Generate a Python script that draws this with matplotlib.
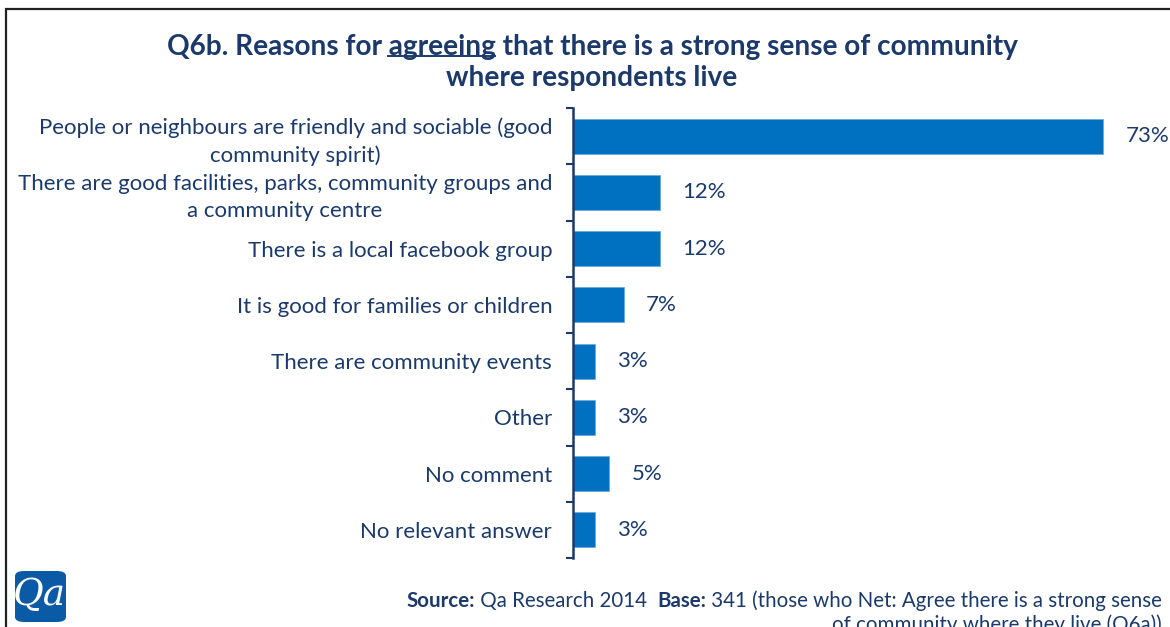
import matplotlib
matplotlib.use("Agg")
import matplotlib.pyplot as plt
from matplotlib.patches import Rectangle, FancyBboxPatch
from matplotlib.lines import Line2D

# Data
categories = [
    "People or neighbours are friendly and sociable (good\ncommunity spirit)",
    "There are good facilities, parks, community groups and\na community centre",
    "There is a local facebook group",
    "It is good for families or children",
    "There are community events",
    "Other",
    "No comment",
    "No relevant answer",
]
values = [73, 12, 12, 7, 3, 3, 5, 3]
value_labels = ["73%", "12%", "12%", "7%", "3%", "3%", "5%", "3%"]

NAVY = "#1B3A6B"
BLUE = "#0070C0"
FONT = "Lato"

W, H = 1170, 627
fig = plt.figure(figsize=(W / 100, H / 100), dpi=100)
fig.patch.set_facecolor("white")

# Outer frame (continues past the right and bottom edges)
fig.patches.append(Rectangle((6 / W, -0.1), 1.2, 1 - 9 / H + 0.1,
                             transform=fig.transFigure, fill=False,
                             edgecolor="#222222", linewidth=1.6))

ax = fig.add_axes([573 / W, 1 - 558 / H, 581 / W, 450 / H])
y = list(range(len(categories)))
ax.barh(y, values, height=0.62, color=BLUE, edgecolor="#6FA8DC", linewidth=0.6, zorder=2)
ax.set_xlim(0, 80)
ax.set_ylim(len(categories) - 0.5, -0.5)

for s in ["top", "right", "bottom"]:
    ax.spines[s].set_visible(False)
ax.spines["left"].set_color(NAVY)
ax.spines["left"].set_linewidth(1.8)
ax.set_xticks([])
ax.set_yticks(y)
ax.set_yticklabels(categories, fontfamily=FONT, fontsize=16, color=NAVY,
                   multialignment="center", linespacing=1.42)
ax.tick_params(axis="y", which="major", length=0, pad=15)
ax.set_yticks([i - 0.5 for i in range(len(categories) + 1)], minor=True)
ax.tick_params(axis="y", which="minor", length=5, width=1.5, color=NAVY, direction="out")

for yi, v, lab in zip(y, values, value_labels):
    ax.annotate(lab, xy=(v, yi), xytext=(16, 0), textcoords="offset points",
                ha="left", va="center", fontfamily=FONT, fontsize=16, color=NAVY)

# Title with the word "agreeing" underlined
renderer = fig.canvas.get_renderer()
title_size = 20.2
cx = 592 / W
line1_y = 1 - 47 / H
pre, key, post = "Q6b. Reasons for ", "agreeing", " that there is a strong sense of community"
t_full = fig.text(cx, line1_y, pre + key + post, ha="center", va="center",
                  fontfamily=FONT, fontweight="bold", fontsize=title_size, color=NAVY)
t_pre = fig.text(0, 0, pre, fontfamily=FONT, fontweight="bold", fontsize=title_size, alpha=0)
t_key = fig.text(0, 0, key, fontfamily=FONT, fontweight="bold", fontsize=title_size, alpha=0)
bb_full = t_full.get_window_extent(renderer)
w_pre = t_pre.get_window_extent(renderer).width
w_key = t_key.get_window_extent(renderer).width
x0 = bb_full.x0 + w_pre
ul_y = bb_full.y0 + 4
fig.lines.append(Line2D([x0 / W, (x0 + w_key) / W], [ul_y / H, ul_y / H],
                        transform=fig.transFigure, color=NAVY, linewidth=1.4))
fig.text(cx, 1 - 78 / H, "where respondents live", ha="center", va="center",
         fontfamily=FONT, fontweight="bold", fontsize=title_size, color=NAVY)

# Source / base note, right-aligned, mixed weights
src_size = 14.8
parts = [("Source:", "bold"), (" Qa Research 2014  ", "normal"), ("Base:", "bold"),
         (" 341 (those who Net: Agree there is a strong sense", "normal")]
widths = []
for txt, wt in parts:
    tt = fig.text(0, 0, txt, fontfamily=FONT, fontweight=wt, fontsize=src_size, alpha=0)
    widths.append(tt.get_window_extent(renderer).width)
right_px = 1162
xpos = right_px - sum(widths)
base_y = 1 - 601 / H
for (txt, wt), w in zip(parts, widths):
    fig.text(xpos / W, base_y, txt, ha="left", va="center", fontfamily=FONT,
             fontweight=wt, fontsize=src_size, color=NAVY)
    xpos += w
fig.text(right_px / W, 1 - 625 / H, "of community where they live (Q6a))", ha="right",
         va="center", fontfamily=FONT, fontsize=src_size, color=NAVY)

# Logo
fig.patches.append(FancyBboxPatch((15 / W, 1 - 622 / H), 51 / W, 51 / H,
                                  boxstyle="round,pad=0,rounding_size=0.008",
                                  transform=fig.transFigure, facecolor="#0B5AA6",
                                  edgecolor="none"))
fig.text(39 / W, 1 - 595 / H, "Qa", ha="center", va="center", fontfamily="DejaVu Serif",
         fontstyle="italic", fontsize=27, color="white")

fig.savefig("out.png", dpi=100, facecolor="white")
